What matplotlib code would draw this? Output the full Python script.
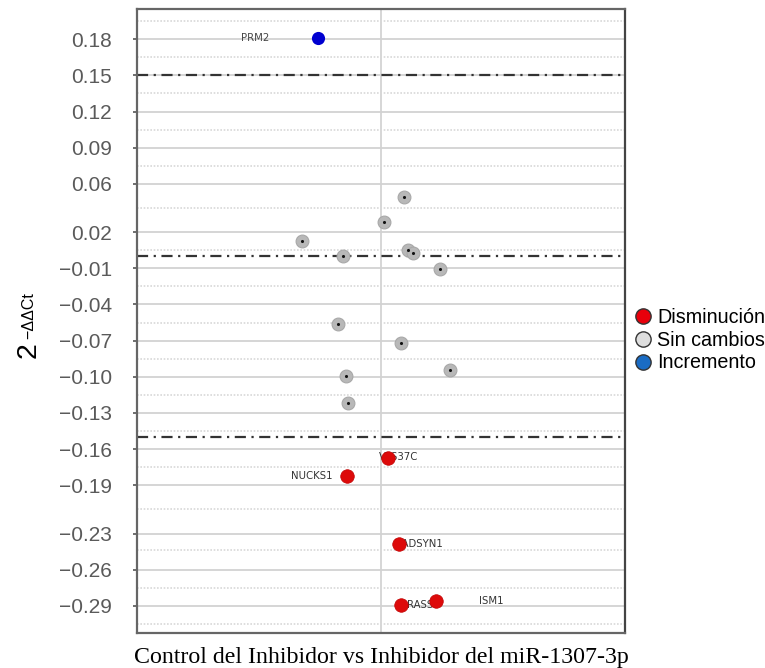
import matplotlib.pyplot as plt
from matplotlib.lines import Line2D
import numpy as np

# datos (x sin escala, eje centrado en 0)
genes_dis = ['VPS37C', 'NUCKS1', 'NADSYN1', 'RASSF', 'ISM1']
x_dis = [0.03, -0.14, 0.075, 0.082, 0.225]
y_dis = [-0.167, -0.182, -0.239, -0.289, -0.286]

x_sin = [0.094, 0.012, -0.324, -0.156, 0.111, 0.131, 0.242, -0.176, 0.082, 0.283, -0.143, -0.135]
y_sin = [0.049, 0.028, 0.0125, 0.0, 0.005, 0.0025, -0.0107, -0.056, -0.072, -0.094, -0.099, -0.122]

genes_inc = ['PRM2']
x_inc = [-0.258]
y_inc = [0.181]

umbrales = [0.15, 0.0, -0.15]
yticks = [0.18, 0.15, 0.12, 0.09, 0.06, 0.02, -0.01, -0.04, -0.07, -0.10, -0.13,
          -0.16, -0.19, -0.23, -0.26, -0.29]
ymenores = [0.195, 0.165, 0.135, 0.105, 0.075, 0.04, 0.005, -0.025, -0.055, -0.085,
            -0.115, -0.145, -0.175, -0.21, -0.244, -0.275, -0.305]
leyenda = ['Disminución', 'Sin cambios', 'Incremento']

fig = plt.figure(figsize=(7.65, 6.68), dpi=100)
ax = fig.add_axes([0.179, 0.0524, 0.638, 0.934])
ax.set_xlim(-1, 1)
ax.set_ylim(-0.3125, 0.205)

ax.set_yticks(yticks)
ax.set_yticklabels([('%.2f' % t).replace('-', '\u2212') for t in yticks],
                   family='Liberation Sans')
ax.set_yticks(ymenores, minor=True)
ax.set_xticks([])
ax.tick_params(axis='y', which='major', labelsize=15, labelcolor='#5a5a5a', color='#555555',
               length=3, width=1.2, pad=15)
ax.tick_params(axis='y', which='minor', length=0)
ax.yaxis.grid(True, which='major', color='#d2d2d2', lw=1.3)
ax.yaxis.grid(True, which='minor', color='#d8d8d8', lw=1.2, ls=(0, (1, 1)))
ax.set_axisbelow(True)
ax.axvline(0, color='#cfcfcf', lw=1.2, zorder=0.5)
for u in umbrales:
    ax.axhline(u, color='#333333', lw=1.6, ls=(0, (5, 2.5, 1, 2.5)), zorder=1)
for s in ax.spines.values():
    s.set_color('#666666')
    s.set_linewidth(1.6)
ax.spines['right'].set_color('#444444')

# puntos sin cambios: gris con punto negro al centro
ax.scatter(x_sin, y_sin, s=85, color='#b8b8b8', edgecolors='#a8a8a8', lw=0.8, zorder=3)
ax.scatter(x_sin, y_sin, s=5, color='#111111', lw=0, zorder=4)
ax.scatter(x_dis, y_dis, s=95, color='#dd0a0a', edgecolors='#c00000', lw=0.5, zorder=3)
ax.scatter(x_inc, y_inc, s=90, color='#0000d0', lw=0, zorder=3)

# desplazamientos de las etiquetas en pixeles
desp_dis = [(10, 1), (-35, 0), (19, 0), (22, 0), (55, 0)]
for g, x, y, d in zip(genes_dis, x_dis, y_dis, desp_dis):
    ax.annotate(g, (x, y), xytext=d, textcoords='offset pixels', ha='center', va='center',
                fontsize=7.3, color='#333333', zorder=2)
ax.annotate(genes_inc[0], (x_inc[0], y_inc[0]), xytext=(-63, 0), textcoords='offset pixels',
            ha='center', va='center', fontsize=7.3, color='#444444', zorder=2)

# etiqueta del eje y: 2 con exponente -ΔΔCt
fig.text(36 / 765, 1 - 358 / 668, '2', rotation=90, rotation_mode='anchor', ha='left',
         va='baseline', family='Liberation Sans', fontsize=20.5, color='black')
fig.text(33 / 765, 1 - 339 / 668, '\u2212\u0394\u0394Ct', rotation=90, rotation_mode='anchor',
         ha='left', va='baseline', family='Liberation Sans', fontsize=11.5, color='black')
ax.set_xlabel('Control del Inhibidor vs Inhibidor del miR-1307-3p', family='Liberation Serif',
              fontsize=17.2, color='black', labelpad=10)

colores = ['#e8000b', '#dedede', '#1a6cc4']
h = [Line2D([], [], ls='', marker='o', ms=11, mfc=c, mec='#333333', mew=1) for c in colores]
fig.legend(h, leyenda, loc='center left', bbox_to_anchor=(634 / 765, 1 - 340 / 668), frameon=False,
           prop={'family': 'Liberation Sans', 'size': 14.2}, handletextpad=0.26,
           labelspacing=0.2, borderpad=0, borderaxespad=0, handlelength=0.9)

fig.savefig('out.png', dpi=100)
